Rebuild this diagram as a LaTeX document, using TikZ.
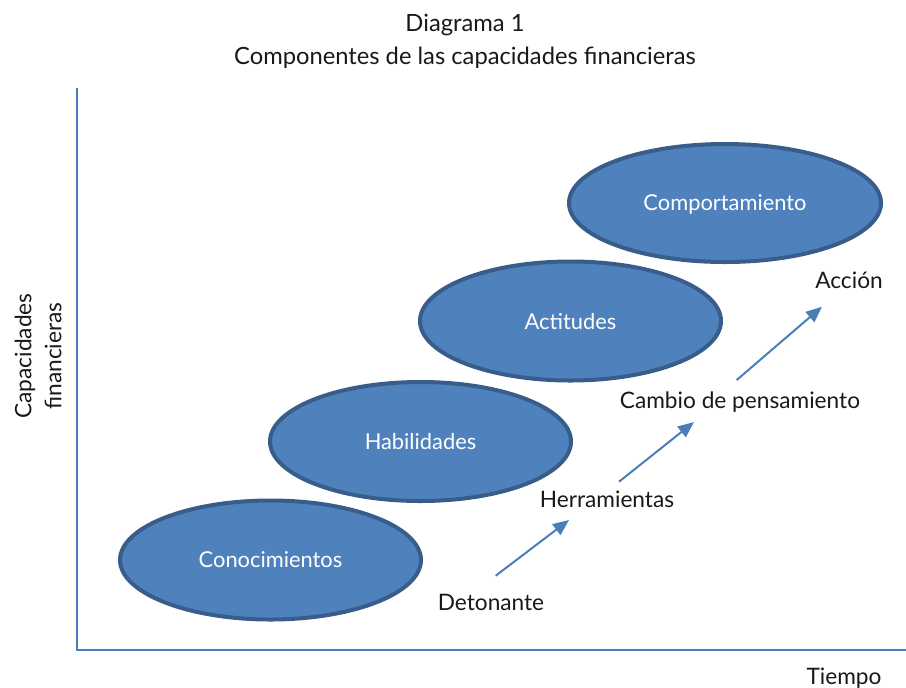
\documentclass[tikz,border=0pt]{standalone}
\usepackage{fontspec}
\setmainfont{Lato}
\usepackage{tikz}
\usetikzlibrary{shapes.geometric,arrows.meta}

\definecolor{relleno}{RGB}{79,129,189}
\definecolor{borde}{RGB}{56,93,138}
\definecolor{eje}{RGB}{74,126,187}

\begin{document}
\begin{tikzpicture}[x=0.75pt,y=0.75pt,yscale=-1,xscale=1,
  componente/.style={ellipse,draw=borde,line width=3pt,fill=relleno,text=white,
    inner sep=0pt,minimum width=225.75pt,minimum height=89.25pt,text depth=0pt,
    font=\fontsize{16.4}{20}\selectfont},
  etiqueta/.style={anchor=base,inner sep=0.75pt,text=black!90,font=\fontsize{17}{20}\selectfont},
  flecha/.style={draw=eje,line width=1.5pt,-{Triangle[length=12pt,width=10pt]}}]
\path[use as bounding box] (0,0) rectangle (906,687);

%Straight Lines
\coordinate (ejearriba) at (77,88);
\coordinate (origen) at (77,650);
\coordinate (ejederecha) at (906,650);
\draw [eje,line width=1.5pt] (ejearriba) -- (origen) -- (ejederecha);

%Shape: Ellipse
\node (cono) [componente] at (270.5,560) {Conocimientos};
%Shape: Ellipse
\node (habi) [componente] at (420.5,441.5) {Habilidades};
%Shape: Ellipse
\node (acti) [componente] at (570.5,321) {Actitudes};
%Shape: Ellipse
\node (comp) [componente,minimum width=234pt,minimum height=88.5pt] at (725,203) {Comportamiento};

% Text Node
\node (titulo1) [etiqueta,font=\fontsize{17.8}{20}\selectfont] at (465,31) {Diagrama 1};
% Text Node
\node (titulo2) [etiqueta,font=\fontsize{17.8}{20}\selectfont] at (465,64) {Componentes de las capacidades financieras};
% Text Node
\node (deto) [etiqueta] at (491,610) {Detonante};
% Text Node
\node (herr) [etiqueta] at (607,507) {Herramientas};
% Text Node
\node (camb) [etiqueta] at (740,408) {Cambio de pensamiento};
% Text Node
\node (acci) [etiqueta] at (849,288) {Acción};
% Text Node
\node (tiem) [etiqueta] at (844,684) {Tiempo};
% Text Node
\node (capa) [anchor=center,inner sep=0.75pt,rotate=90,align=center,text=black!90,
  font=\fontsize{17}{22.5}\selectfont] at (38,356) {Capacidades\\financieras};

%Straight Lines
\coordinate (deto-sal) at (495.7,575.7);
\coordinate (herr-ent) at (569,520);
\coordinate (herr-sal) at (619,481.7);
\coordinate (camb-ent) at (694,422);
\coordinate (camb-sal) at (736.7,380);
\coordinate (acci-ent) at (822,306.7);
\draw [flecha] (deto-sal) -- (herr-ent);
\draw [flecha] (herr-sal) -- (camb-ent);
\draw [flecha] (camb-sal) -- (acci-ent);

\end{tikzpicture}
\end{document}
